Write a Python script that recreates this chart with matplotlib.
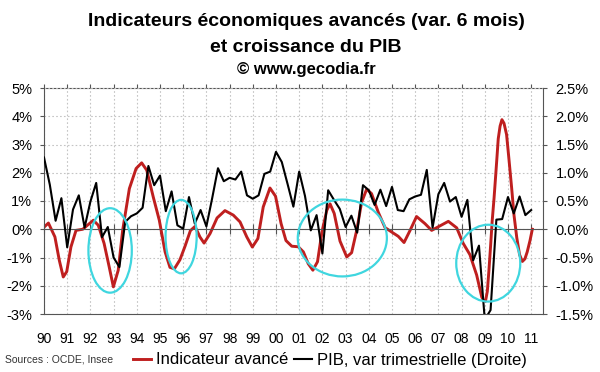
import numpy as np
import matplotlib
matplotlib.use("Agg")
import matplotlib.pyplot as plt
from matplotlib.patches import Ellipse
from matplotlib.lines import Line2D

plt.rcParams['font.family'] = ['Liberation Sans', 'DejaVu Sans']

# PIB, variation trimestrielle (axe de droite), 1990T1 .. 2011T1
pib_start = 1990
pib = [1.27, 0.79, 0.15, 0.55,
       -0.32, 0.35, 0.60, 0.03,
       0.49, 0.82, -0.14, 0.04,
       -0.50, -0.67, 0.13, 0.23,
       0.28, 0.38, 1.12, 0.78,
       0.95, 0.32, 0.67, 0.07,
       0.01, 0.57, 0.10, 0.34,
       0.05, 0.55, 1.08, 0.85,
       0.91, 0.88, 1.02, 0.60,
       0.54, 0.60, 0.98, 1.02,
       1.37, 1.19, 0.80, 0.40,
       1.02, 0.59, -0.02, 0.25,
       -0.43, 0.69, 0.52, 0.36,
       0.04, 0.24, -0.06, 0.78,
       0.69, 0.43, 0.70, 0.41,
       0.75, 0.34, 0.32, 0.53,
       0.58, 0.61, 1.05, 0.03,
       0.62, 0.82, 0.49, 0.57,
       0.22, 0.52, -0.55, -0.29,
       -1.60, -1.43, 0.17, 0.18,
       0.57, 0.28, 0.58, 0.25,
       0.34]

# Indicateur avance (var. 6 mois, axe de gauche)
ind_dates = [1990.01, 1990.19, 1990.47, 1990.66, 1990.83, 1990.98, 1991.16, 1991.38,
             1991.67, 1991.87, 1992.13, 1992.34, 1992.59, 1992.81, 1992.99, 1993.20,
             1993.39, 1993.68, 1993.97, 1994.21, 1994.43, 1994.71, 1994.97, 1995.22,
             1995.43, 1995.62, 1995.86, 1996.08, 1996.31, 1996.51, 1996.72, 1996.90,
             1997.16, 1997.46, 1997.80, 1998.16, 1998.45, 1998.74, 1998.98, 1999.22,
             1999.45, 1999.74, 1999.98, 2000.22, 2000.43, 2000.68, 2000.96, 2001.18,
             2001.39, 2001.59, 2001.79, 2001.98, 2002.19, 2002.33, 2002.51, 2002.76,
             2003.05, 2003.26, 2003.49, 2003.69, 2003.91, 2004.12, 2004.41, 2004.70,
             2004.99, 2005.27, 2005.52, 2005.78, 2006.06, 2006.42, 2006.71, 2007.07,
             2007.43, 2007.79, 2008.07, 2008.36, 2008.65, 2008.87, 2008.94, 2009.03,
             2009.11, 2009.18, 2009.25, 2009.32, 2009.40, 2009.47, 2009.53, 2009.58,
             2009.66, 2009.74, 2009.83, 2009.94, 2010.04, 2010.16, 2010.26, 2010.38,
             2010.50, 2010.62, 2010.73, 2010.83, 2010.95, 2011.05]
ind_values = [0.08, 0.22, -0.27, -1.10, -1.69, -1.50, -0.63, -0.04,
              0.00, 0.14, 0.32, 0.14, -0.50, -1.33, -2.04, -1.45,
              -0.04, 1.44, 2.15, 2.35, 2.09, 1.14, 0.32, -0.80,
              -1.35, -1.40, -1.08, -0.60, -0.05, 0.10, -0.27, -0.49,
              -0.15, 0.40, 0.66, 0.50, 0.26, -0.27, -0.63, -0.33,
              0.79, 1.46, 1.17, 0.20, -0.40, -0.60, -0.62, -0.80,
              -1.22, -1.45, -1.15, -0.10, 0.67, 0.90, 0.56, -0.42,
              -0.98, -0.83, 0.00, 0.95, 1.42, 1.26, 0.60, 0.06,
              -0.10, -0.25, -0.47, -0.04, 0.45, 0.20, -0.04, 0.12,
              0.28, 0.05, -0.50, -0.90, -1.62, -2.40, -2.52, -2.55,
              -2.20, -1.45, -0.60, 0.30, 1.10, 1.90, 2.60, 3.20,
              3.65, 3.88, 3.75, 3.35, 2.50, 1.45, 0.50, -0.30,
              -0.90, -1.14, -1.05, -0.80, -0.40, 0.00]

year_labels = ['90', '91', '92', '93', '94', '95', '96', '97', '98', '99', '00',
               '01', '02', '03', '04', '05', '06', '07', '08', '09', '10', '11']

# cercles d'annotation (centre annee, centre %, largeur annees, hauteur %)
circle_x = [1992.85, 1995.91, 2002.86, 2009.15]
circle_y = [-0.75, -0.26, -0.31, -1.20]
circle_w = [1.87, 1.34, 3.84, 2.76]
circle_h = [2.99, 2.60, 2.72, 2.72]

red = '#bf1f1f'
cyan = '#3fd6df'
axcol = '#555555'
gridcol = '#c4c4c4'

fig = plt.figure(figsize=(6.0, 3.72), dpi=100)
ax = fig.add_axes([44 / 600, 58 / 372, 499 / 600, 226 / 372])
ax2 = ax.twinx()

pib_dates = pib_start + np.arange(len(pib)) / 4.0
years = np.arange(1990, 1990 + len(year_labels))

ax.set_xlim(1990, 2011.51)
ax.set_ylim(-3, 5)
ax2.set_ylim(-1.5, 2.5)

ax.plot(ind_dates, ind_values, color=red, lw=2.1, zorder=2)
ax2.plot(pib_dates, pib, color='black', lw=1.5, zorder=2)

for cx, cy, cw, ch in zip(circle_x, circle_y, circle_w, circle_h):
    ax2.add_patch(Ellipse((cx, cy), cw, ch, transform=ax.transData,
                          fill=False, edgecolor=cyan, lw=1.6, zorder=3))

# grille pointillee
ax.set_xticks(years)
ax.set_yticks(np.arange(-3, 6, 1))
ax.grid(True, color=gridcol, lw=0.8, linestyle=(0, (1.5, 2)))
ax.set_axisbelow(True)

# axe horizontal a zero avec graduations
ax.spines['bottom'].set_position(('data', 0))
ax.spines['bottom'].set_color(axcol)
ax.tick_params(axis='x', which='both', direction='inout', length=7,
               color=axcol, labelbottom=False)
ax.spines['top'].set_visible(False)
ax.spines['right'].set_visible(False)
ax.spines['left'].set_color(axcol)

ax.yaxis.set_major_formatter(matplotlib.ticker.FuncFormatter(lambda v, p: f'{v:.0f}%'))
ax.tick_params(axis='y', direction='out', length=3, color=axcol, pad=5.5,
               labelsize=10.5)

# bord superieur avec graduations vers l'exterieur
top = ax.secondary_xaxis('top')
top.set_xticks(years)
top.tick_params(direction='out', length=3, color=axcol, labeltop=False)
top.spines['top'].set_color(axcol)

# bord inferieur avec les annees
bot = ax.secondary_xaxis('bottom')
bot.set_xticks(years)
bot.set_xticklabels(year_labels)
bot.tick_params(length=0, pad=13, labelsize=10)
bot.spines['bottom'].set_color(axcol)

for s in ['left', 'top', 'bottom']:
    ax2.spines[s].set_visible(False)
ax2.spines['right'].set_color(axcol)
ax2.set_yticks(np.arange(-1.5, 2.6, 0.5))
ax2.yaxis.set_major_formatter(matplotlib.ticker.FuncFormatter(lambda v, p: f'{v:.1f}%'))
ax2.tick_params(axis='y', direction='out', length=3, color=axcol, pad=6,
                labelsize=10.5)

fig.text(0.51, 1 - 26 / 372, 'Indicateurs économiques avancés (var. 6 mois)',
         ha='center', va='baseline', fontsize=14, fontweight='bold')
fig.text(0.51, 1 - 52 / 372, 'et croissance du PIB',
         ha='center', va='baseline', fontsize=14, fontweight='bold')
fig.text(0.51, 1 - 74 / 372, '© www.gecodia.fr',
         ha='center', va='baseline', fontsize=12, fontweight='bold')

fig.text(5 / 600, 1 - 360 / 372, 'Sources : OCDE, Insee', ha='left', va='center',
         fontsize=7.5, color='#333333')

handles = [Line2D([], [], color=red, lw=2.1), Line2D([], [], color='black', lw=1.5)]
fig.legend(handles, ['Indicateur avancé', 'PIB, var trimestrielle (Droite)'],
           loc='center', bbox_to_anchor=(330 / 600, 1 - 360 / 372), ncol=2,
           frameon=False, fontsize=12, handlelength=1.1, handletextpad=0.3,
           columnspacing=0.3, borderpad=0, borderaxespad=0)

fig.savefig('out.png', dpi=100)
